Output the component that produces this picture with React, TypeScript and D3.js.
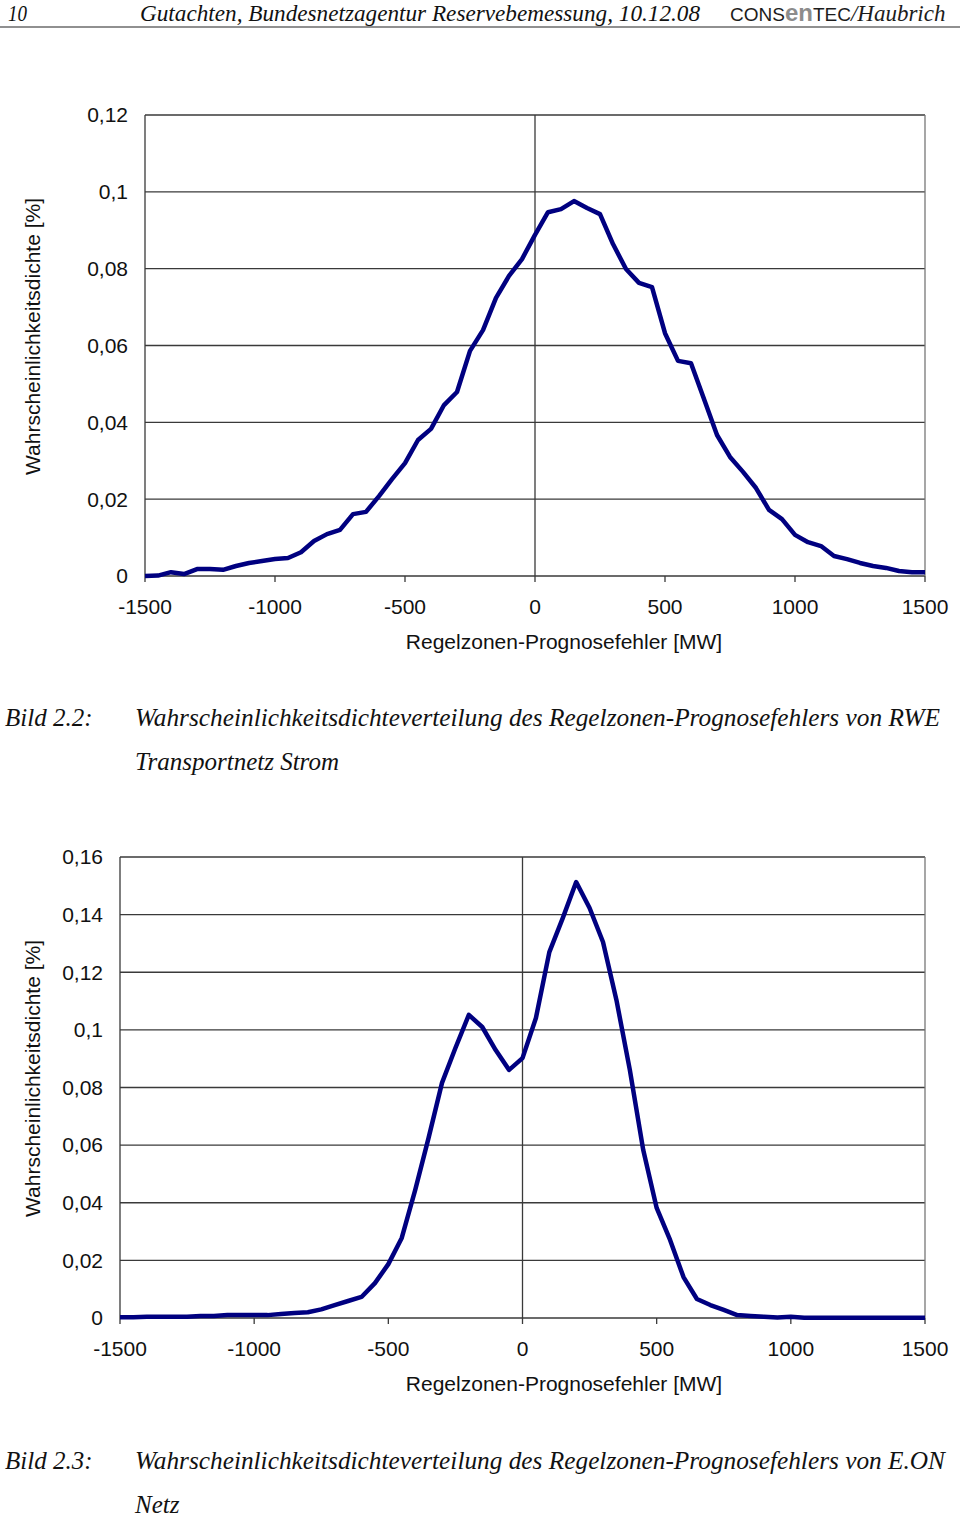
import React from "react";
import * as d3 from "d3";

// x categories (MW), shared by both charts
const errorMW = [
  -1500, -1450, -1400, -1350, -1300, -1250, -1200, -1150, -1100, -1050,
  -1000, -950, -900, -850, -800, -750, -700, -650, -600, -550,
  -500, -450, -400, -350, -300, -250, -200, -150, -100, -50,
  0, 50, 100, 150, 200, 250, 300, 350, 400, 450,
  500, 550, 600, 650, 700, 750, 800, 850, 900, 950,
  1000, 1050, 1100, 1150, 1200, 1250, 1300, 1350, 1400, 1450, 1500,
];

// Bild 2.2 - RWE Transportnetz Strom
const rweDensity = [
  0, 0.0001, 0.001, 0.0005, 0.0018, 0.0018, 0.0016, 0.0026, 0.0034, 0.0039,
  0.0044, 0.0047, 0.0062, 0.0091, 0.0109, 0.012, 0.0161, 0.0167, 0.0208, 0.0252,
  0.0294, 0.0354, 0.0383, 0.0445, 0.0479, 0.0586, 0.064, 0.0724, 0.0781, 0.0825,
  0.0888, 0.0947, 0.0955, 0.0976, 0.0958, 0.0942, 0.0864, 0.0799, 0.0763, 0.0752,
  0.0632, 0.056, 0.0554, 0.0461, 0.0367, 0.031, 0.0271, 0.0229, 0.0172, 0.0148,
  0.0107, 0.0088, 0.0078, 0.0052, 0.0044, 0.0034, 0.0026, 0.0021, 0.0013, 0.001, 0.001,
];

// Bild 2.3 - E.ON Netz
const eonDensity = [
  0.0003, 0.0003, 0.0004, 0.0004, 0.0004, 0.0004, 0.0007, 0.0007, 0.001, 0.001,
  0.001, 0.001, 0.0014, 0.0017, 0.002, 0.003, 0.0045, 0.0059, 0.0073, 0.0121,
  0.0187, 0.0278, 0.0444, 0.0625, 0.0816, 0.0937, 0.1052, 0.101, 0.093, 0.0861,
  0.0902, 0.1041, 0.127, 0.1388, 0.1513, 0.1423, 0.1305, 0.1104, 0.0861, 0.0583,
  0.0382, 0.0271, 0.0142, 0.0066, 0.0045, 0.0028, 0.001, 0.0007, 0.0004, 0.0002,
  0.0004, 0.0001, 0.0001, 0.0001, 0.0001, 0.0001, 0.0001, 0.0001, 0.0001, 0.0001, 0.0001,
];

const xTicks = [-1500, -1000, -500, 0, 500, 1000, 1500];
const yTicksRwe = [0, 0.02, 0.04, 0.06, 0.08, 0.1, 0.12];
const yTicksEon = [0, 0.02, 0.04, 0.06, 0.08, 0.1, 0.12, 0.14, 0.16];

const xTitle = "Regelzonen-Prognosefehler [MW]";
const yTitle = "Wahrscheinlichkeitsdichte [%]";

const sans = "'Liberation Sans', Arial, sans-serif";
const serif = "'Liberation Serif', 'Times New Roman', serif";
const lineColor = "#000080";
const gridColor = "#3a3a3a";

const fmt = (v: number) => String(+v.toFixed(2)).replace(".", ",");

interface DensityChartProps {
  left: number;
  right: number;
  top: number;
  bottom: number;
  yMax: number;
  yTicks: number[];
  values: number[];
}

const DensityChart = ({ left, right, top, bottom, yMax, yTicks, values }: DensityChartProps) => {
  const x = d3.scaleLinear().domain([-1500, 1500]).range([left, right]);
  const y = d3.scaleLinear().domain([0, yMax]).range([bottom, top]);
  const line = d3
    .line<number>()
    .x((_, i) => x(errorMW[i]))
    .y((d) => y(d));

  return (
    <g>
      {yTicks.map((t) => (
        <g key={t}>
          <line x1={left} x2={right} y1={y(t)} y2={y(t)} stroke={gridColor} strokeWidth={1.3} />
          <text
            x={left - 17}
            y={y(t)}
            dy="0.35em"
            textAnchor="end"
            fontFamily={sans}
            fontSize={21}
            fill="#111"
          >
            {fmt(t)}
          </text>
        </g>
      ))}
      <line x1={left} x2={left} y1={top} y2={bottom} stroke={gridColor} strokeWidth={1.3} />
      <line x1={right} x2={right} y1={top} y2={bottom} stroke="#777" strokeWidth={1.3} />
      <line x1={x(0)} x2={x(0)} y1={top} y2={bottom} stroke={gridColor} strokeWidth={1.3} />
      {xTicks.map((t) => (
        <g key={t}>
          <line x1={x(t)} x2={x(t)} y1={bottom} y2={bottom + 6} stroke={gridColor} strokeWidth={1.3} />
          <text
            x={x(t)}
            y={bottom + 31}
            dy="0.35em"
            textAnchor="middle"
            fontFamily={sans}
            fontSize={21}
            fill="#111"
          >
            {t}
          </text>
        </g>
      ))}
      <path d={line(values) || ""} fill="none" stroke={lineColor} strokeWidth={4.5} strokeLinejoin="round" />
      <text
        x={564}
        y={bottom + 66}
        dy="0.35em"
        textAnchor="middle"
        fontFamily={sans}
        fontSize={21}
        fill="#111"
      >
        {xTitle}
      </text>
      <text
        transform={`translate(33,${(top + bottom) / 2 - 9}) rotate(-90)`}
        dy="0.35em"
        textAnchor="middle"
        fontFamily={sans}
        fontSize={21}
        fill="#111"
      >
        {yTitle}
      </text>
    </g>
  );
};

const Caption = ({ y, label, lines }: { y: number; label: string; lines: [string, number | null][] }) => (
  <g fontFamily={serif} fontStyle="italic" fontSize={25} fill="#111">
    <text x={5} y={y}>{label}</text>
    {lines.map(([s, len], i) => (
      <text
        key={i}
        x={135}
        y={y + i * 44}
        textLength={len ?? undefined}
        lengthAdjust={len ? "spacingAndGlyphs" : undefined}
      >
        {s}
      </text>
    ))}
  </g>
);

export default function App() {
  return (
    <svg
      width={960}
      height={1517}
      style={{ position: "absolute", left: 0, top: 0, background: "#fff" }}
    >
      {/* page header */}
      <g fontFamily={serif} fontStyle="italic" fill="#111" fontSize={24}>
        <text x={8} y={21} textLength={19} lengthAdjust="spacingAndGlyphs">10</text>
        <text x={140} y={21} textLength={560} lengthAdjust="spacingAndGlyphs">
          Gutachten, Bundesnetzagentur Reservebemessung, 10.12.08
        </text>
      </g>
      <text x={730} y={21} fontFamily={sans} fontSize={19} fill="#1c1c1c">
        CONS
        <tspan fill="#8c8c8c" fontWeight="bold" fontSize={24}>en</tspan>
        <tspan>TEC</tspan>
        <tspan fontFamily={serif} fontStyle="italic" fontSize={23}>/Haubrich</tspan>
      </text>
      <line x1={0} x2={960} y1={27} y2={27} stroke="#222" strokeWidth={1.2} />

      <DensityChart left={145} right={925} top={115} bottom={576} yMax={0.12} yTicks={yTicksRwe} values={rweDensity} />
      <Caption
        y={726}
        label="Bild 2.2:"
        lines={[
          ["Wahrscheinlichkeitsdichteverteilung des Regelzonen-Prognosefehlers von RWE", 805],
          ["Transportnetz Strom", null],
        ]}
      />

      <DensityChart left={120} right={925} top={857} bottom={1318} yMax={0.16} yTicks={yTicksEon} values={eonDensity} />
      <Caption
        y={1469}
        label="Bild 2.3:"
        lines={[
          ["Wahrscheinlichkeitsdichteverteilung des Regelzonen-Prognosefehlers von E.ON", 810],
          ["Netz", null],
        ]}
      />
    </svg>
  );
}
